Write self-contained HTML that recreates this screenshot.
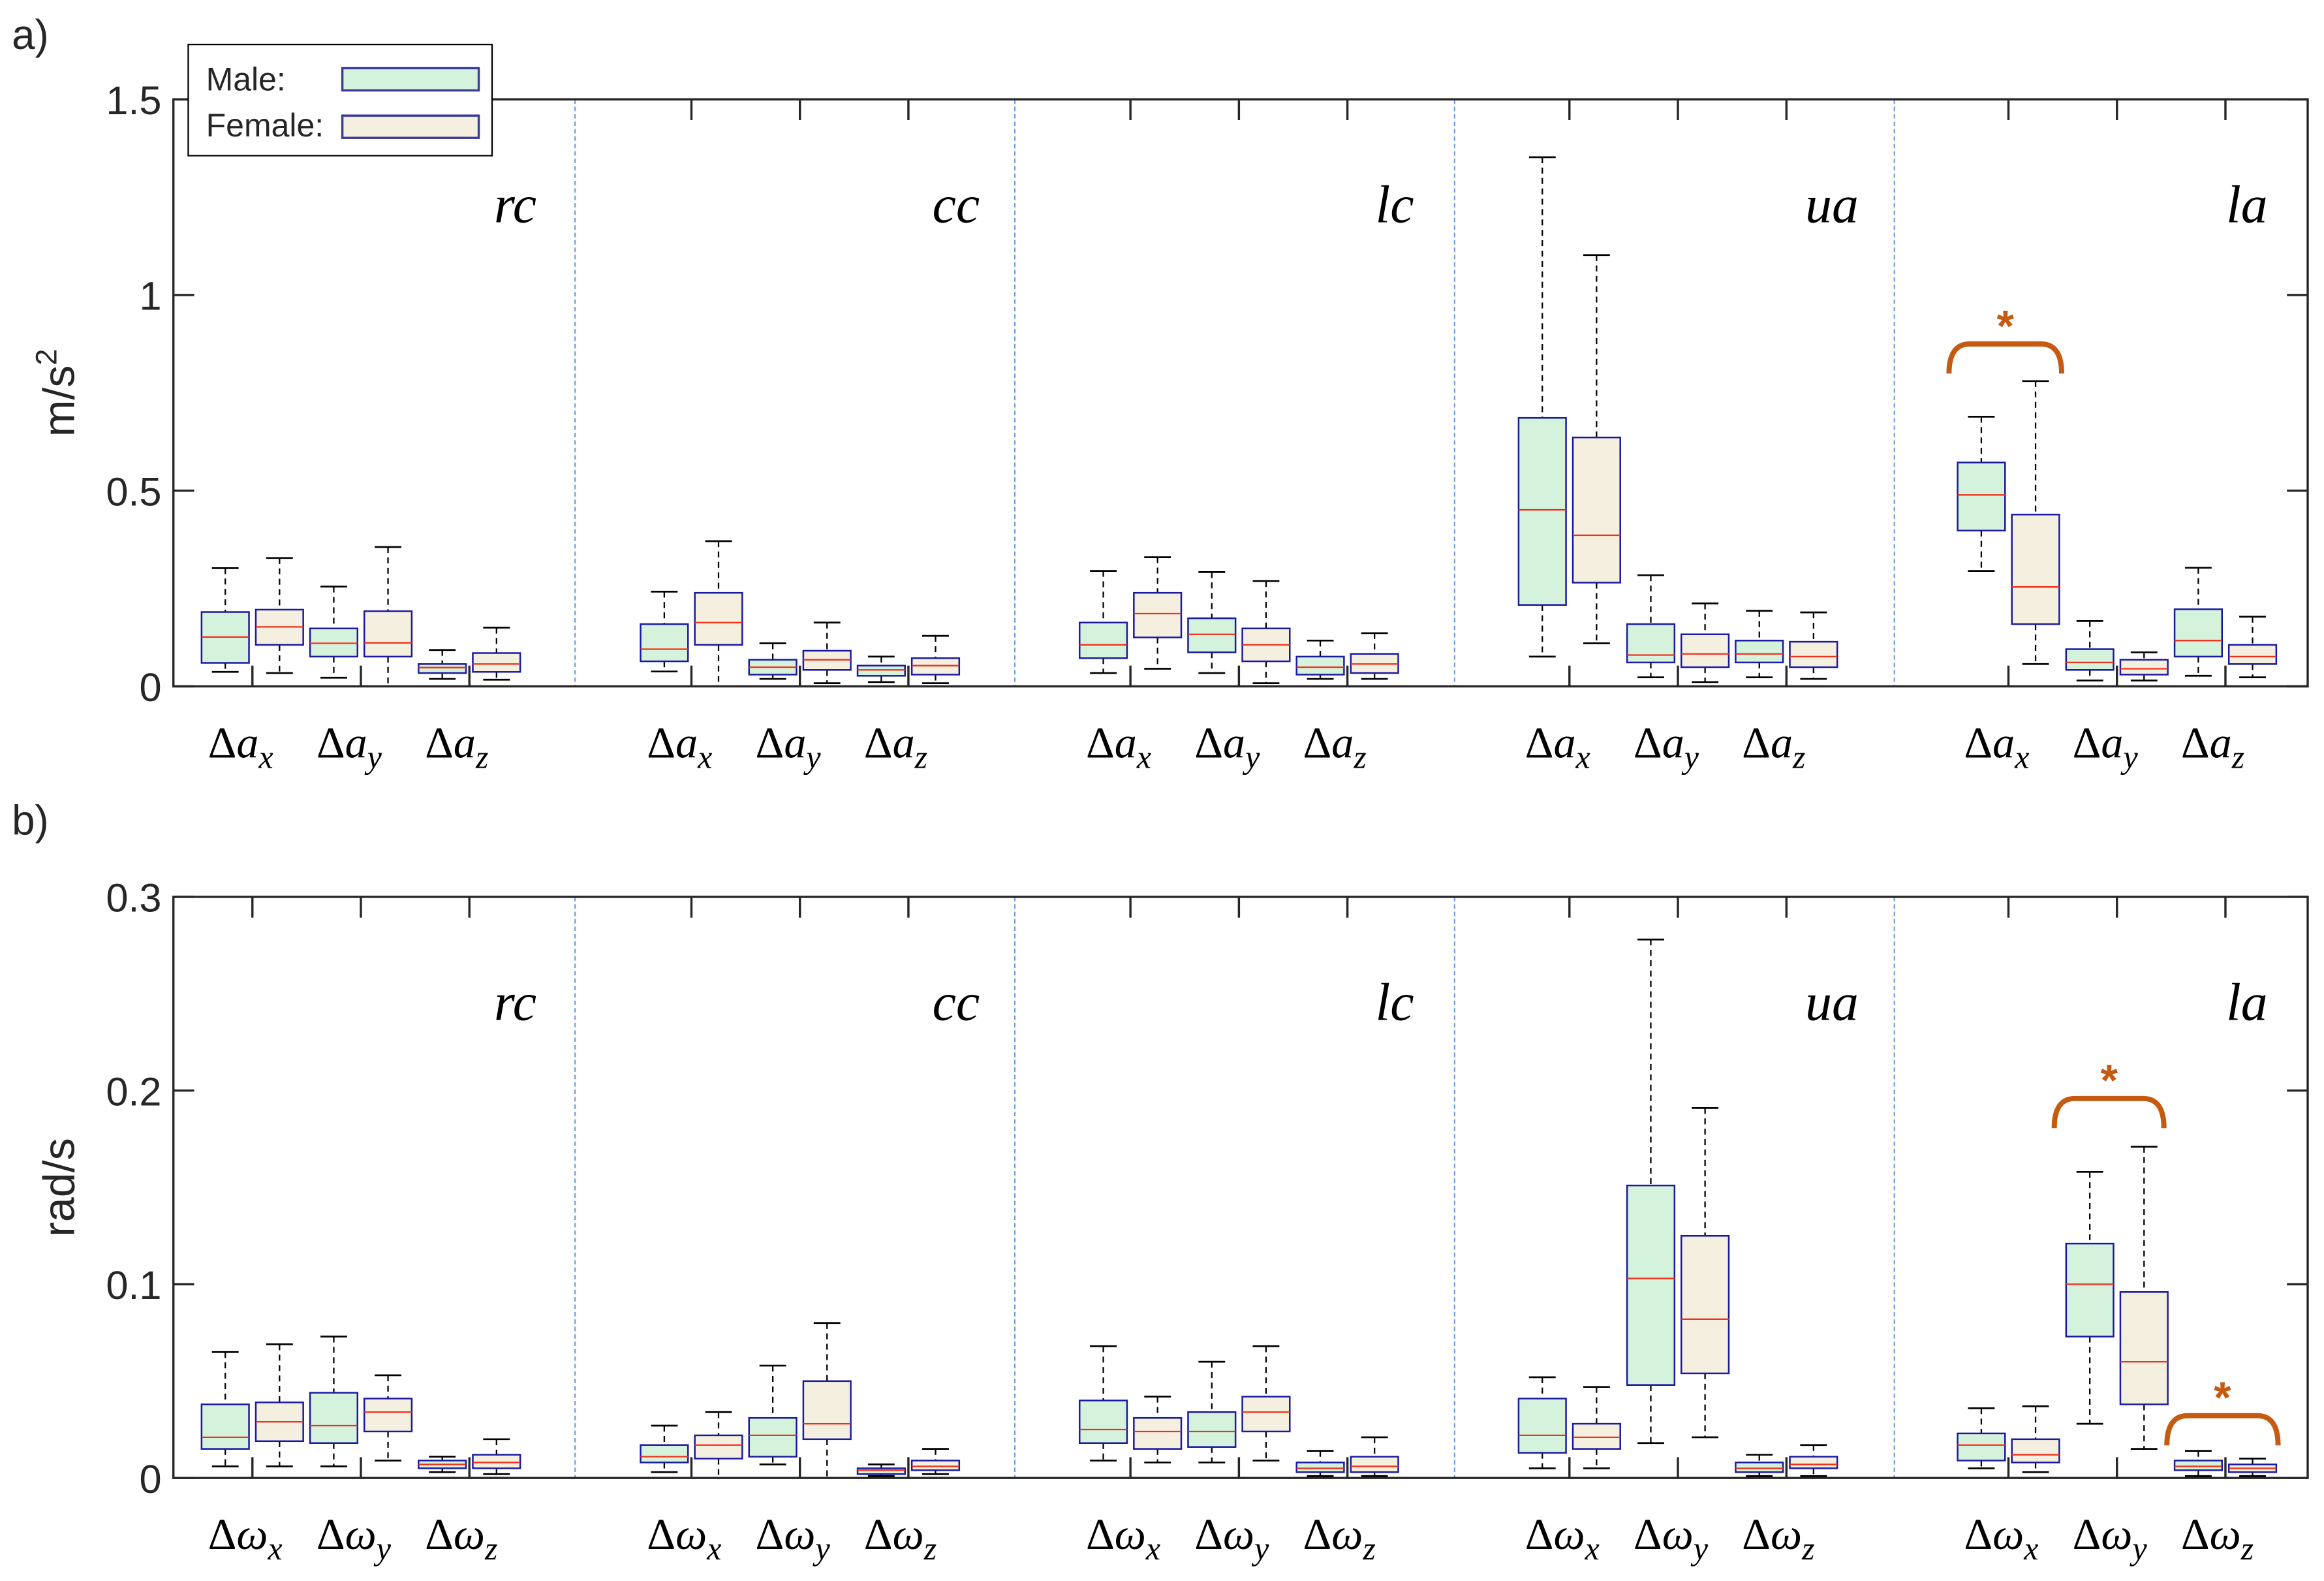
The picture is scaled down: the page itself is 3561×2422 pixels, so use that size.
<!DOCTYPE html>
<html><head><meta charset="utf-8"><style>
html,body{margin:0;padding:0;background:#fff;}
svg{display:block;}
.tk{font-family:"Liberation Sans",sans-serif;font-size:27px;fill:#262626;}
.yt{font-family:"Liberation Sans",sans-serif;font-size:30px;fill:#262626;}
.grp{font-family:"Liberation Serif",serif;font-style:italic;font-size:36px;fill:#000;}
.xl{font-family:"Liberation Serif",serif;font-size:30px;fill:#000;}
</style></head><body>
<svg id="chart" width="3561" height="2422" viewBox="0 0 1568 1066.5" preserveAspectRatio="none" xmlns="http://www.w3.org/2000/svg">
<text x="8" y="33" class="tk" style="font-size:28px">a)</text>
<text x="8" y="563" class="tk" style="font-size:28px">b)</text>
<g id="pa"></g>
<g id="pb"></g>
<g>
<rect x="127" y="30" width="205" height="75" fill="#fff" stroke="#000" stroke-width="1"/>
<text x="139" y="61" class="tk" style="font-size:22px">Male:</text>
<rect x="231" y="46" width="92" height="15" fill="#d5f2dc" stroke="#3a3a9a" stroke-width="1.5"/>
<text x="139" y="92" class="tk" style="font-size:22px">Female:</text>
<rect x="231" y="78" width="92" height="15" fill="#f5efdf" stroke="#3a3a9a" stroke-width="1.5"/>
</g>
</svg>
<script>
const groups = ["rc","cc","lc","ua","la"];
// each box: [whiskerLow, q1, median, q3, whiskerHigh]; order per group: Mx,Fx,My,Fy,Mz,Fz
const accRc = [[0.037,0.06,0.126,0.19,0.302],[0.034,0.106,0.152,0.196,0.328],[0.022,0.076,0.11,0.148,0.255],[0,0.076,0.111,0.192,0.356],[0.019,0.034,0.048,0.057,0.093],[0.017,0.037,0.057,0.085,0.15]];
const accCc = [[0.038,0.064,0.095,0.159,0.242],[0,0.106,0.163,0.239,0.371],[0.019,0.03,0.049,0.068,0.11],[0.008,0.042,0.068,0.091,0.163],[0.011,0.027,0.042,0.053,0.076],[0.008,0.03,0.053,0.072,0.129]];
const accLc = [[0.034,0.072,0.106,0.163,0.295],[0.045,0.125,0.186,0.239,0.33],[0.034,0.087,0.133,0.174,0.292],[0.008,0.064,0.106,0.148,0.269],[0.019,0.03,0.049,0.076,0.117],[0.019,0.034,0.057,0.083,0.136]];
const accUa = [[0.076,0.208,0.451,0.686,1.352],[0.11,0.265,0.386,0.636,1.102],[0.023,0.061,0.08,0.159,0.284],[0.011,0.049,0.083,0.133,0.212],[0.023,0.061,0.083,0.117,0.193],[0.019,0.049,0.076,0.114,0.189]];
const accLa = [[0.295,0.398,0.489,0.572,0.689],[0.057,0.159,0.254,0.439,0.78],[0.015,0.042,0.061,0.095,0.167],[0.015,0.03,0.045,0.068,0.087],[0.027,0.076,0.117,0.197,0.303],[0.023,0.057,0.076,0.106,0.178]];
const gyrRc = [[0.006,0.015,0.021,0.038,0.065],[0.006,0.019,0.029,0.039,0.069],[0.006,0.018,0.027,0.044,0.073],[0.009,0.024,0.034,0.041,0.053],[0.003,0.005,0.007,0.009,0.011],[0.002,0.005,0.008,0.012,0.02]];
const gyrCc = [[0.003,0.008,0.011,0.017,0.027],[0,0.01,0.017,0.022,0.034],[0.007,0.011,0.022,0.031,0.058],[0,0.02,0.028,0.05,0.08],[0.001,0.002,0.004,0.005,0.007],[0.002,0.004,0.006,0.009,0.015]];
const gyrLc = [[0.009,0.018,0.025,0.04,0.068],[0.008,0.015,0.024,0.031,0.042],[0.008,0.016,0.024,0.034,0.06],[0.009,0.024,0.034,0.042,0.068],[0.001,0.003,0.005,0.008,0.014],[0.001,0.003,0.006,0.011,0.021]];
const gyrUa = [[0.005,0.013,0.022,0.041,0.052],[0.005,0.015,0.021,0.028,0.047],[0.018,0.048,0.103,0.151,0.278],[0.021,0.054,0.082,0.125,0.191],[0.001,0.003,0.005,0.008,0.012],[0.001,0.005,0.007,0.011,0.017]];
const gyrLa = [[0.005,0.009,0.017,0.023,0.036],[0.003,0.008,0.012,0.02,0.037],[0.028,0.073,0.1,0.121,0.158],[0.015,0.038,0.06,0.096,0.171],[0.001,0.004,0.006,0.009,0.014],[0.001,0.003,0.005,0.007,0.01]];
const accTicks = [0,0.5,1,1.5];
const accTickLabels = ["0","0.5","1","1.5"];
const gyrTicks = [0,0.1,0.2,0.3];
const gyrTickLabels = ["0","0.1","0.2","0.3"];
const accSymbol = "a";
const gyrSymbol = "ω";
const axes = ["x","y","z"];

const NS="http://www.w3.org/2000/svg";
function mk(parent,tag,attrs){const e=document.createElementNS(NS,tag);for(const k in attrs)e.setAttribute(k,attrs[k]);parent.appendChild(e);return e;}
const X0=117,X1=1557,GW=296.2,BOX0=152,BSTEP=36.6,BW=32;
const LABEL_RIGHT=[362,661,954,1254,1530];
function boxX(g,k){return BOX0+g*GW+k*BSTEP;}

function panel(gid,top,bottom,ymax,data,ticks,tickLabels,sym,ytitle,prefix){
  const G=document.getElementById(gid);
  const y=v=>bottom-(v/ymax)*(bottom-top);
  for(let g=1;g<5;g++){const xd=388+(g-1)*296.7;
    const l=mk(G,"line",{x1:xd,y1:top,x2:xd,y2:bottom,stroke:"#6a9ae8","stroke-width":0.9,"stroke-dasharray":"3,2"});
    
    }
  ticks.forEach((t,i)=>{const yy=y(t);
    mk(G,"line",{x1:X0,y1:yy,x2:X0+14,y2:yy,stroke:"#262626","stroke-width":1.5});
    mk(G,"line",{x1:X1-14,y1:yy,x2:X1,y2:yy,stroke:"#262626","stroke-width":1.5});
    const tx=mk(G,"text",{x:X0-8,y:yy+10,"text-anchor":"end",class:"tk"});tx.textContent=tickLabels[i];
    
    });
  const yt=mk(G,"text",{x:0,y:0,class:"yt",transform:`translate(50,${(top+bottom)/2}) rotate(-90)`,"text-anchor":"middle"});
  yt.textContent=ytitle;
  
  
  if(ytitle==="m/s"){const s=mk(yt,"tspan",{dy:-12,style:"font-size:20px"});s.textContent="2";}
  data.forEach((grp,g)=>{
    for(let p=0;p<3;p++){const cx=(boxX(g,2*p)+boxX(g,2*p+1))/2;
      mk(G,"line",{x1:cx,y1:bottom,x2:cx,y2:bottom-14,stroke:"#262626","stroke-width":1.5});
      mk(G,"line",{x1:cx,y1:top,x2:cx,y2:top+14,stroke:"#262626","stroke-width":1.5});
      const t=mk(G,"text",{x:cx-30,y:bottom+48,class:"xl"});
      
      
      t.textContent="Δ";const a=mk(t,"tspan",{"font-style":"italic"});a.textContent=sym;
      const sb=mk(t,"tspan",{"font-style":"italic",dy:7,style:"font-size:22px"});sb.textContent=axes[p];}
    const gl=mk(G,"text",{x:LABEL_RIGHT[g],y:top+83,"text-anchor":"end",class:"grp"});gl.textContent=groups[g];
    
    
    grp.forEach((b,k)=>{const cx=boxX(g,k);const [lo,q1,md,q3,hi]=b;
      const bg=mk(G,"g",{});
      
      
      mk(bg,"line",{x1:cx,y1:y(hi),x2:cx,y2:y(q3),stroke:"#000","stroke-width":1,"stroke-dasharray":"4,3"});
      mk(bg,"line",{x1:cx,y1:y(q1),x2:cx,y2:y(lo),stroke:"#000","stroke-width":1,"stroke-dasharray":"4,3"});
      mk(bg,"line",{x1:cx-9,y1:y(hi),x2:cx+9,y2:y(hi),stroke:"#000","stroke-width":1.2});
      mk(bg,"line",{x1:cx-9,y1:y(lo),x2:cx+9,y2:y(lo),stroke:"#000","stroke-width":1.2});
      mk(bg,"rect",{x:cx-BW/2,y:y(q3),width:BW,height:Math.max(y(q1)-y(q3),1),fill:k%2?"#f5efdf":"#d5f2dc",stroke:"#1a1aa0","stroke-width":1.1});
      mk(bg,"line",{x1:cx-BW/2,y1:y(md),x2:cx+BW/2,y2:y(md),stroke:"#f0301c","stroke-width":1});});
  });
  mk(G,"rect",{x:X0,y:top,width:X1-X0,height:bottom-top,fill:"none",stroke:"#262626","stroke-width":1.5});
  return y;
}
const ya=panel("pa",67,463,1.5,[accRc,accCc,accLc,accUa,accLa],accTicks,accTickLabels,accSymbol,"m/s","acc");
const yb=panel("pb",605,997,0.3,[gyrRc,gyrCc,gyrLc,gyrUa,gyrLa],gyrTicks,gyrTickLabels,gyrSymbol,"rad/s","gyr");

function bracket(G,x1,x2,yt,name){const c="#c55a11";
  const p=mk(G,"path",{d:`M${x1},${yt+20} Q${x1},${yt} ${x1+14},${yt} L${x2-14},${yt} Q${x2},${yt} ${x2},${yt+20}`,fill:"none",stroke:c,"stroke-width":3.5});
  
  
  const s=mk(G,"text",{x:(x1+x2)/2,y:yt-2,"text-anchor":"middle",fill:c,style:"font-family:'Liberation Sans',sans-serif;font-size:30px;font-weight:bold"});
  s.textContent="*";
  
  }
const S=document.getElementById("chart");
bracket(S,1315,1391,232,"significance-bracket-la-ax");
bracket(S,1386,1460,741,"significance-bracket-la-wy");
bracket(S,1462,1537,955,"significance-bracket-la-wz");
</script>
</body></html>
